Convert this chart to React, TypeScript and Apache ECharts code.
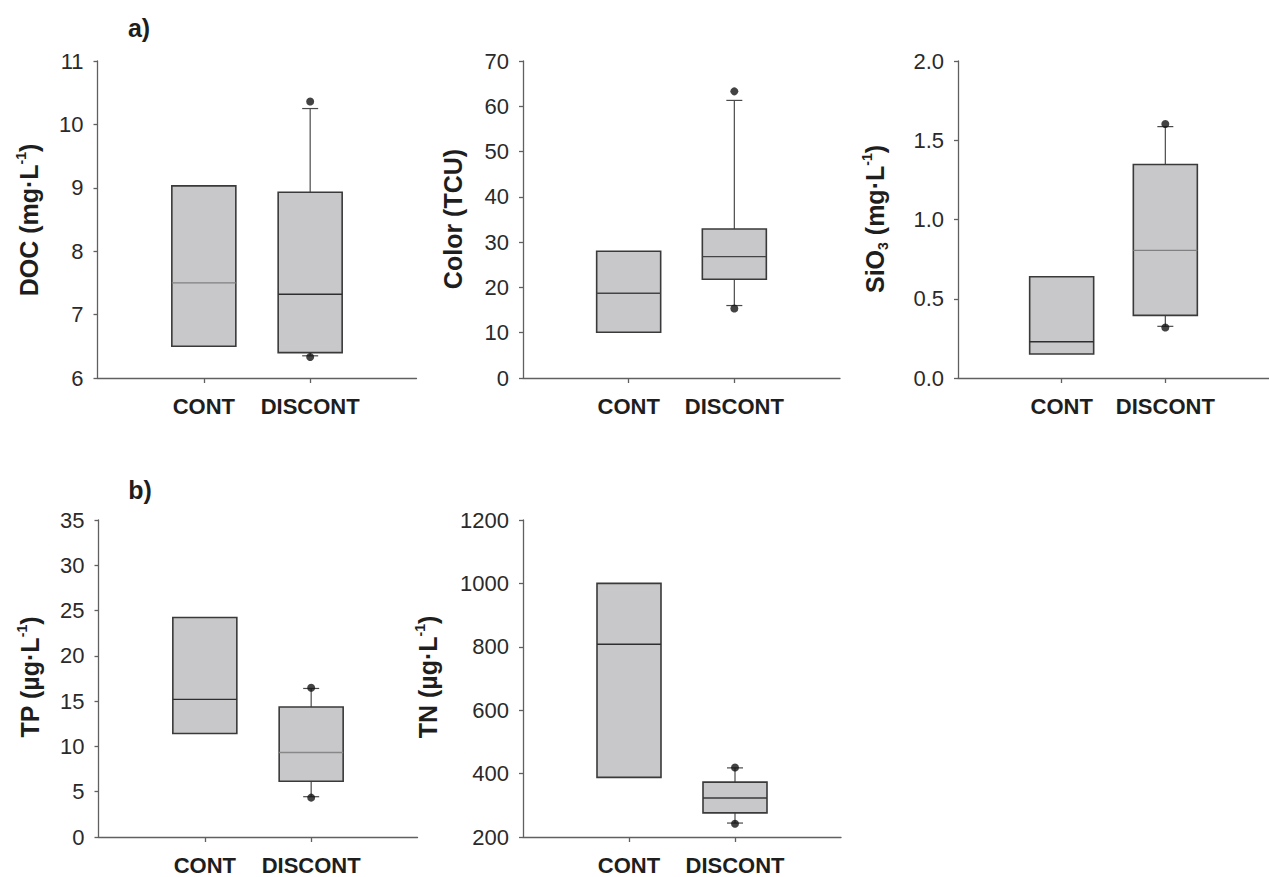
import React, { useEffect, useRef } from "react";
import * as echarts from "echarts";

// ---------- data ----------
const categories = ["CONT", "DISCONT"];
const xSlots = ["", "CONT", "DISCONT", ""];

// [min(whisker), Q1, median, Q3, max(whisker)]
const docBoxes = [
  [6.5, 6.5, 7.5, 9.03, 9.03],
  [6.35, 6.4, 7.32, 8.93, 10.25],
];
const docOutliers = [["DISCONT", 10.36], ["DISCONT", 6.33]];

const colorBoxes = [
  [10.1, 10.1, 18.7, 28.0, 28.0],
  [16.0, 21.8, 26.8, 32.9, 61.3],
];
const colorOutliers = [["DISCONT", 63.3], ["DISCONT", 15.35]];

const sio3Boxes = [
  [0.151, 0.151, 0.229, 0.639, 0.639],
  [0.326, 0.395, 0.805, 1.347, 1.586],
];
const sio3Outliers = [["DISCONT", 1.603], ["DISCONT", 0.319]];

const tpBoxes = [
  [11.43, 11.43, 15.2, 24.24, 24.24],
  [4.45, 6.15, 9.33, 14.36, 16.4],
];
const tpOutliers = [["DISCONT", 16.47], ["DISCONT", 4.35]];

const tnBoxes = [
  [388, 388, 808, 1000, 1000],
  [244, 276, 323, 373, 418],
];
const tnOutliers = [["DISCONT", 419], ["DISCONT", 242]];

// axis ranges [min, max, interval]
const docAxis = [6, 11, 1];
const colorAxis = [0, 70, 10];
const sio3Axis = [0, 2, 0.5];
const tpAxis = [0, 35, 5];
const tnAxis = [200, 1200, 200];

// ---------- styles ----------
const FONT = "'Liberation Sans', Arial, Helvetica, sans-serif";
const TEXT = "#1e1e1e";
const AXIS = "#606060";
const BOX_FILL = "#c8c8ca";
const BOX_STROKE = "#3a3a3a";

const panels = [
  { boxes: docBoxes, outliers: docOutliers, axis: docAxis, decimals: 0, grid: { left: 97.5, top: 61, width: 319, height: 317 }, medians: ["#808080", "#2e2e2e"] },
  { boxes: colorBoxes, outliers: colorOutliers, axis: colorAxis, decimals: 0, grid: { left: 523, top: 61, width: 317, height: 317 }, medians: ["#444", "#444"] },
  { boxes: sio3Boxes, outliers: sio3Outliers, axis: sio3Axis, decimals: 1, grid: { left: 958, top: 61, width: 316, height: 317 }, medians: ["#2e2e2e", "#808080"] },
  { boxes: tpBoxes, outliers: tpOutliers, axis: tpAxis, decimals: 0, grid: { left: 98.5, top: 520, width: 319, height: 317 }, medians: ["#2e2e2e", "#888"] },
  { boxes: tnBoxes, outliers: tnOutliers, axis: tnAxis, decimals: 0, grid: { left: 523, top: 520, width: 318, height: 317 }, medians: ["#2e2e2e", "#3a3a3a"] },
];

const titles = [
  { text: "{b|DOC (mg·L}{sup|-1}{b|)}", x: 29, y: 220 },
  { text: "{b|Color (TCU)}", x: 453, y: 219 },
  { text: "{b|SiO}{sub|3}{b| (mg·L}{sup|-1}{b|)}", x: 875, y: 219 },
  { text: "{b|TP (µg·L}{sup|-1}{b|)}", x: 30, y: 677 },
  { text: "{b|TN (µg·L}{sup|-1}{b|)}", x: 428, y: 677 },
];

const titleRich = {
  b: { fontSize: 25, fontWeight: "bold", fontFamily: FONT, fill: TEXT, lineHeight: 30 },
  sup: { fontSize: 14, fontWeight: "bold", fontFamily: FONT, fill: TEXT, lineHeight: 14, verticalAlign: "top" },
  sub: { fontSize: 14, fontWeight: "bold", fontFamily: FONT, fill: TEXT, lineHeight: 14, verticalAlign: "bottom" },
};

function makeRenderItem(medians: string[]) {
  return function (params: any, api: any) {
    const xi = api.value(0);
    const mn = api.value(1);
    const q1 = api.value(2);
    const md = api.value(3);
    const q3 = api.value(4);
    const mx = api.value(5);
    const cx = api.coord([xi, md])[0];
    const y = (v: number) => api.coord([xi, v])[1];
    const half = 32;
    const cap = 8;
    const children: any[] = [];
    const wStyle = { stroke: "#4a4a4a", lineWidth: 1.2 };
    if (mx > q3) {
      children.push({ type: "line", shape: { x1: cx, y1: y(q3), x2: cx, y2: y(mx) }, style: wStyle });
      children.push({ type: "line", shape: { x1: cx - cap, y1: y(mx), x2: cx + cap, y2: y(mx) }, style: wStyle });
    }
    if (mn < q1) {
      children.push({ type: "line", shape: { x1: cx, y1: y(q1), x2: cx, y2: y(mn) }, style: wStyle });
      children.push({ type: "line", shape: { x1: cx - cap, y1: y(mn), x2: cx + cap, y2: y(mn) }, style: wStyle });
    }
    children.push({
      type: "rect",
      shape: { x: cx - half, y: y(q3), width: half * 2, height: y(q1) - y(q3) },
      style: { fill: BOX_FILL, stroke: BOX_STROKE, lineWidth: 1.6 },
    });
    children.push({
      type: "line",
      shape: { x1: cx - half, y1: y(md), x2: cx + half, y2: y(md) },
      style: { stroke: medians[params.dataIndex] || "#333", lineWidth: 1.4 },
    });
    return { type: "group", children };
  };
}

export default function App() {
  const ref = useRef<HTMLDivElement>(null);

  useEffect(() => {
    if (!ref.current) return;
    const chart = echarts.init(ref.current, null, { renderer: "svg" });

    const showIdx = (i: number) => i === 1 || i === 2;

    const grids = panels.map((p) => ({ ...p.grid, containLabel: false }));
    const xAxes = panels.map((_, k) => ({
      type: "category",
      gridIndex: k,
      data: xSlots,
      boundaryGap: false,
      axisLine: { show: true, lineStyle: { color: AXIS, width: 1.3 } },
      axisTick: { show: true, interval: (i: number) => showIdx(i), length: 5, inside: false, lineStyle: { color: AXIS, width: 1.3 } },
      axisLabel: {
        interval: (i: number) => showIdx(i),
        fontSize: 22,
        fontWeight: "bold",
        fontFamily: FONT,
        color: TEXT,
        margin: 17,
      },
      splitLine: { show: false },
    }));
    const yAxes = panels.map((p, k) => ({
      type: "value",
      gridIndex: k,
      min: p.axis[0],
      max: p.axis[1],
      interval: p.axis[2],
      axisLine: { show: true, lineStyle: { color: AXIS, width: 1.3 } },
      axisTick: { show: true, length: 4, inside: false, lineStyle: { color: AXIS, width: 1.3 } },
      axisLabel: {
        fontSize: 22,
        fontFamily: FONT,
        color: "#2a2a2a",
        margin: 14,
        formatter: (v: number) => v.toFixed(p.decimals),
      },
      splitLine: { show: false },
    }));

    const series: any[] = [];
    panels.forEach((p, k) => {
      series.push({
        type: "custom",
        xAxisIndex: k,
        yAxisIndex: k,
        renderItem: makeRenderItem(p.medians),
        encode: { x: 0, y: [1, 2, 3, 4, 5] },
        data: categories.map((c, i) => [c, ...p.boxes[i]]),
        z: 2,
      });
      series.push({
        type: "scatter",
        xAxisIndex: k,
        yAxisIndex: k,
        symbol: "circle",
        symbolSize: 8,
        itemStyle: { color: "#141414" },
        data: p.outliers,
        z: 3,
      });
    });

    const graphic: any[] = [
      { type: "text", x: 139, y: 28, style: { text: "a)", fontSize: 25, fontWeight: "bold", fontFamily: FONT, fill: TEXT, align: "center", verticalAlign: "middle" } },
      { type: "text", x: 140, y: 490, style: { text: "b)", fontSize: 25, fontWeight: "bold", fontFamily: FONT, fill: TEXT, align: "center", verticalAlign: "middle" } },
      ...titles.map((t) => ({
        type: "text",
        x: t.x,
        y: t.y,
        rotation: Math.PI / 2,
        style: { text: t.text, rich: titleRich, align: "center", verticalAlign: "middle", fill: TEXT },
      })),
    ];

    chart.setOption({
      animation: false,
      backgroundColor: "#ffffff",
      grid: grids,
      xAxis: xAxes,
      yAxis: yAxes,
      series,
      graphic,
    });

    return () => chart.dispose();
  }, []);

  return (
    <div
      ref={ref}
      style={{ position: "absolute", left: 0, top: 0, width: 1269, height: 877, background: "#fff" }}
    />
  );
}
